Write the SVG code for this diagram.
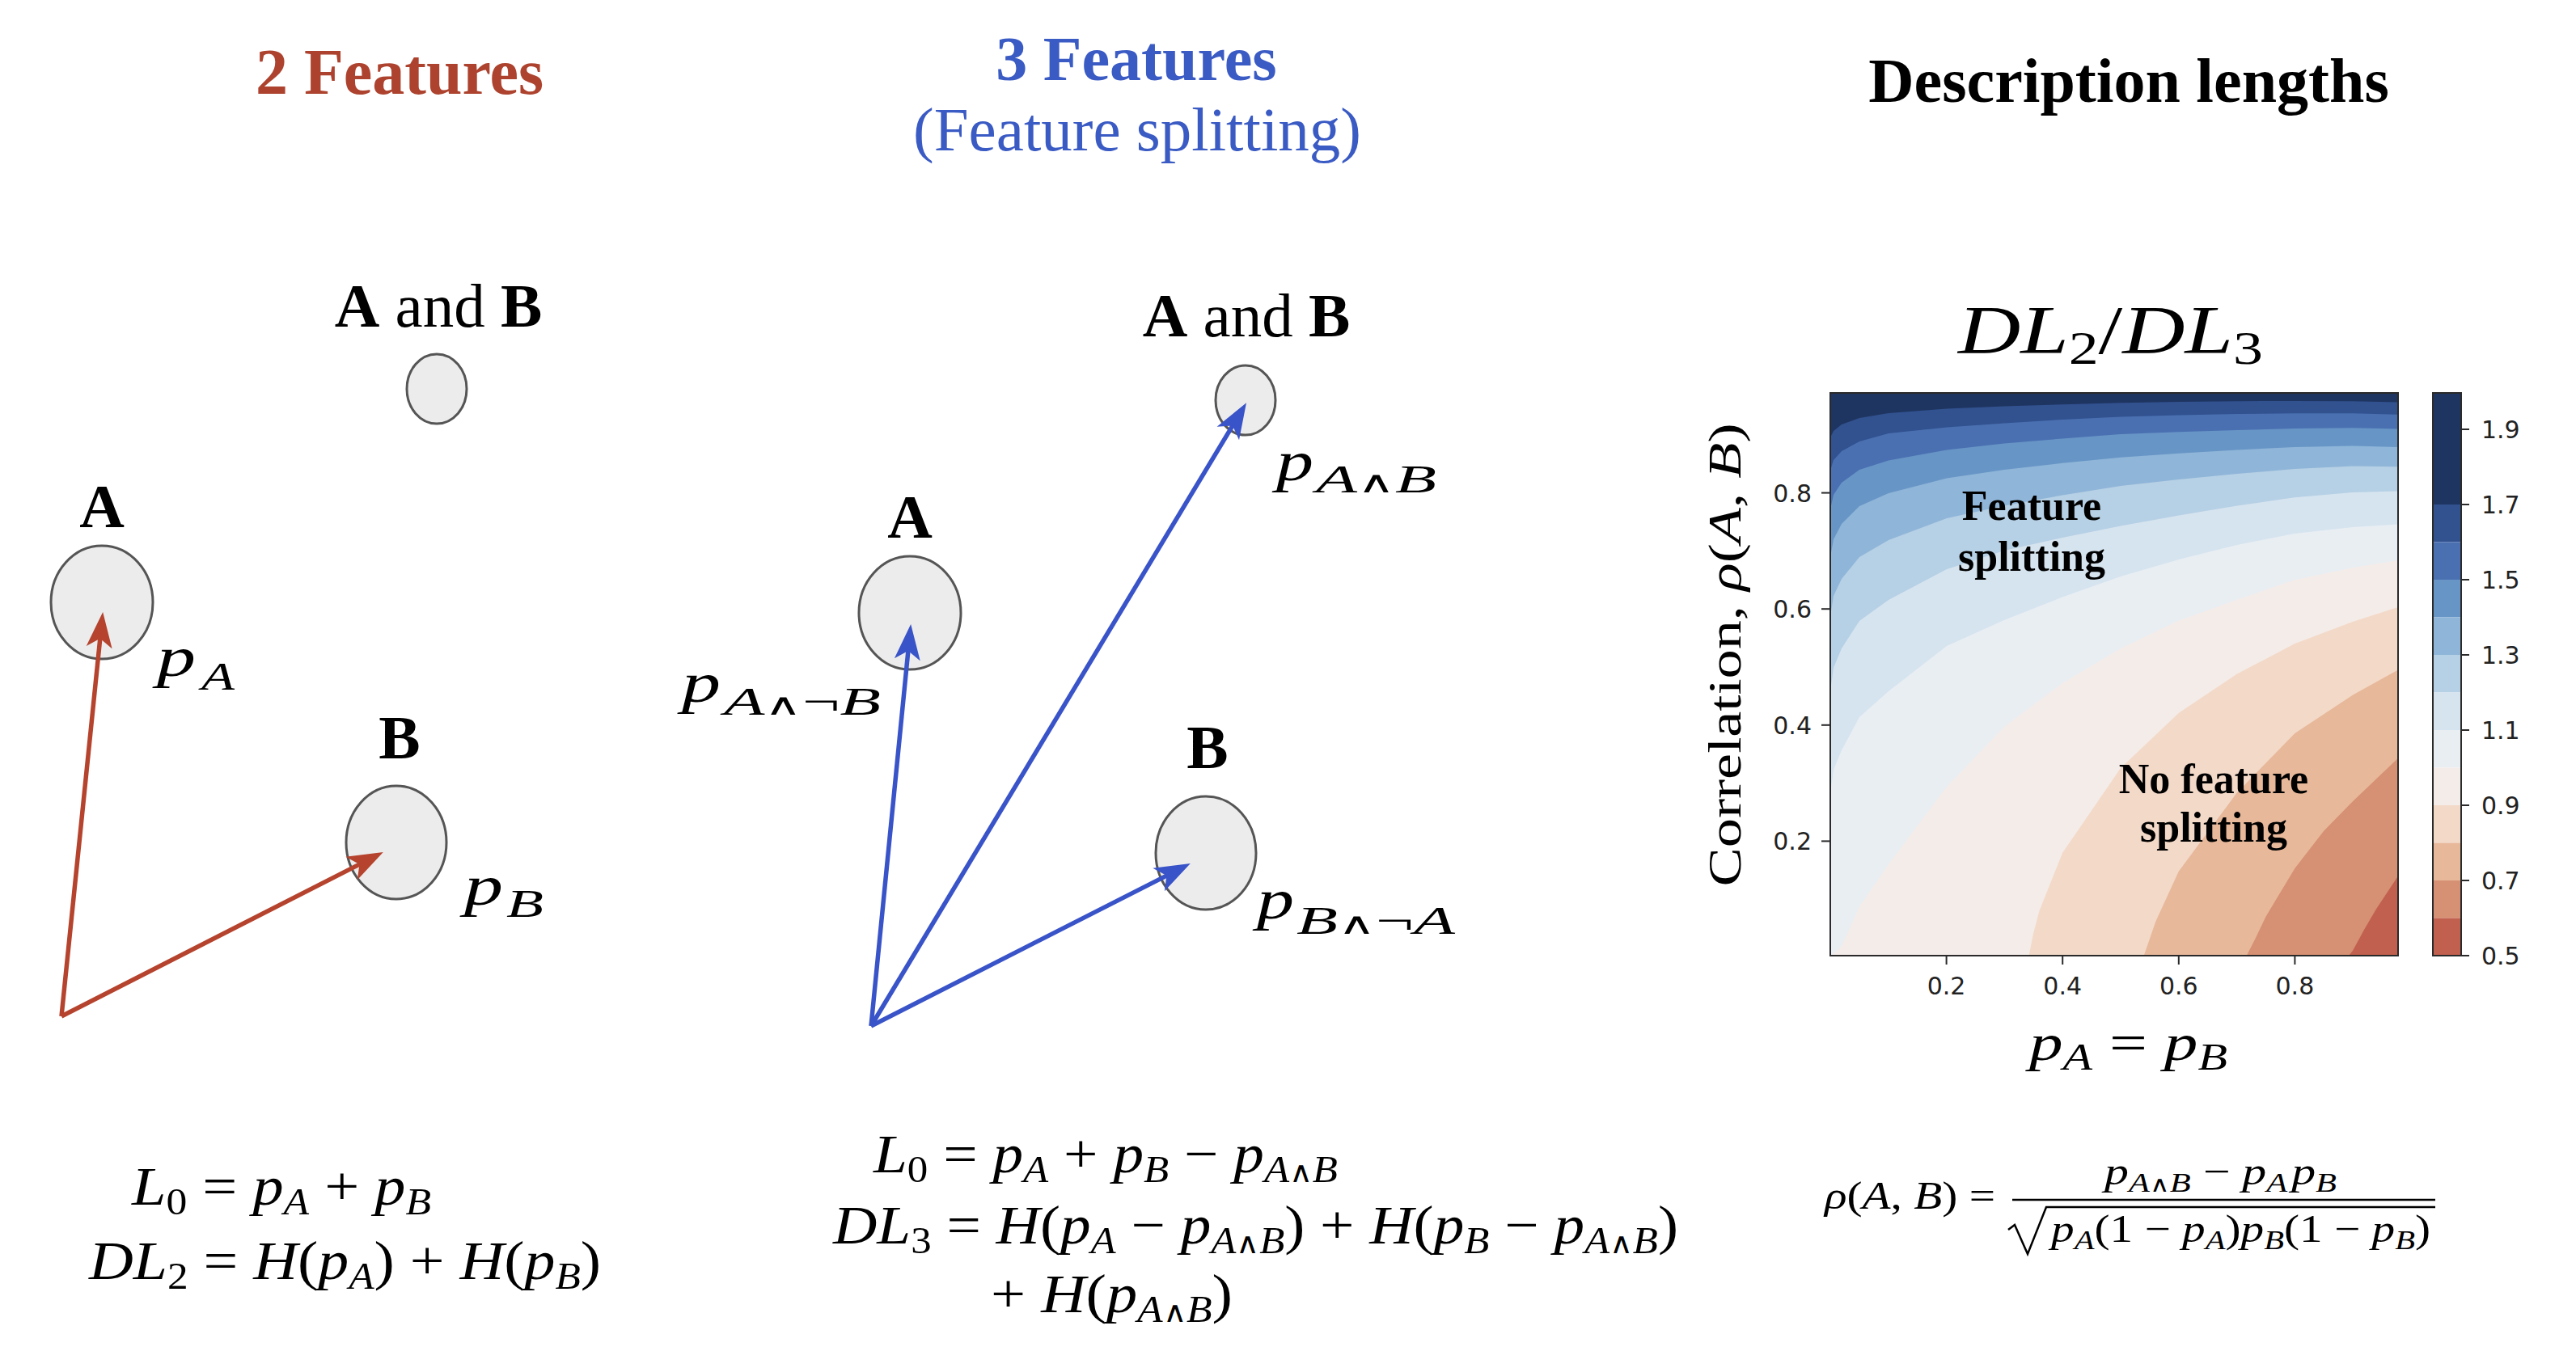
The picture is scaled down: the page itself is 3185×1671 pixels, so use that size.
<svg xmlns="http://www.w3.org/2000/svg" width="3185" height="1671" viewBox="0 0 3185 1671">
<style>
.b{font-family:'Liberation Serif','Times New Roman',serif;font-weight:700}
.rg{font-family:'Liberation Serif','Times New Roman',serif;font-weight:400}
.it{font-family:'Liberation Serif','DejaVu Serif',serif;font-style:italic}
.up{font-style:normal}
.op{font-family:'DejaVu Sans',sans-serif;font-style:normal;font-weight:200;font-size:0.78em}
.tk{font-family:'DejaVu Sans',sans-serif;font-size:30px;fill:#222}
.node{fill:#ececec;stroke:#555;stroke-width:3}
.ax{fill:none;stroke:#2a2a2a;stroke-width:2}
.tm{stroke:#2a2a2a;stroke-width:2}
.red{stroke:#b5432d;stroke-width:5.5;fill:none}
.blue{stroke:#3953c8;stroke-width:5.5;fill:none}
</style>
<defs>
<marker id="ahR" markerUnits="userSpaceOnUse" markerWidth="46" markerHeight="34" viewBox="0 -17 46 34" refX="12" refY="0" orient="auto"><path d="M0,-16 L44,0 L0,16 L11,0 Z" fill="#b5432d"/></marker>
<marker id="ahB" markerUnits="userSpaceOnUse" markerWidth="46" markerHeight="34" viewBox="0 -17 46 34" refX="12" refY="0" orient="auto"><path d="M0,-16 L44,0 L0,16 L11,0 Z" fill="#3953c8"/></marker>
<clipPath id="plotclip"><rect x="2263" y="486" width="702" height="696"/></clipPath>
</defs>
<rect width="3185" height="1671" fill="#fff"/>

<g id="titles">
<text class="b" x="494" y="116" text-anchor="middle" font-size="80" fill="#ad432f">2 Features</text>
<text class="b" x="1405" y="99" text-anchor="middle" font-size="78" fill="#3a5ac4">3 Features</text>
<text class="rg" x="1406" y="186" text-anchor="middle" font-size="77" fill="#3a5ac4">(Feature splitting)</text>
<text class="b" x="2632" y="126" text-anchor="middle" font-size="78" fill="#000">Description lengths</text>
</g>

<g id="l-ab">
<text class="rg" x="542" y="404" text-anchor="middle" font-size="77"><tspan font-weight="700">A</tspan> and <tspan font-weight="700">B</tspan></text>
<ellipse class="node" cx="540" cy="481" rx="37" ry="43"/>
</g>
<g id="l-a">
<text class="b" x="126" y="652" text-anchor="middle" font-size="77">A</text>
<ellipse class="node" cx="126" cy="745" rx="63" ry="70"/>
<text class="it" x="194" y="836" font-size="70" textLength="48" lengthAdjust="spacingAndGlyphs">p</text>
<text class="it" x="249" y="853" font-size="48" textLength="41" lengthAdjust="spacingAndGlyphs">A</text>
</g>
<g id="l-b">
<text class="b" x="494" y="938" text-anchor="middle" font-size="77">B</text>
<ellipse class="node" cx="490" cy="1042" rx="62" ry="70"/>
<text class="it" x="574" y="1119" font-size="70" textLength="48" lengthAdjust="spacingAndGlyphs">p</text>
<text class="it" x="626" y="1134" font-size="48" textLength="46" lengthAdjust="spacingAndGlyphs">B</text>
</g>

<g id="m-ab">
<text class="rg" x="1541" y="416" text-anchor="middle" font-size="77"><tspan font-weight="700">A</tspan> and <tspan font-weight="700">B</tspan></text>
<ellipse class="node" cx="1540" cy="495" rx="37" ry="43"/>
<text class="it" x="1578" y="594" font-size="70" textLength="46" lengthAdjust="spacingAndGlyphs">p</text>
<text class="it" x="1627" y="609" font-size="48" textLength="149" lengthAdjust="spacingAndGlyphs">A<tspan class="op">∧</tspan>B</text>
</g>
<g id="m-a">
<text class="b" x="1125" y="665" text-anchor="middle" font-size="77">A</text>
<ellipse class="node" cx="1125" cy="758" rx="63" ry="70"/>
<text class="it" x="843" y="868" font-size="70" textLength="48" lengthAdjust="spacingAndGlyphs">p</text>
<text class="it" x="895" y="884" font-size="48" textLength="194" lengthAdjust="spacingAndGlyphs">A<tspan class="op">∧</tspan><tspan class="up">¬</tspan>B</text>
</g>
<g id="m-b">
<text class="b" x="1493" y="950" text-anchor="middle" font-size="77">B</text>
<ellipse class="node" cx="1491" cy="1055" rx="62" ry="70"/>
<text class="it" x="1554" y="1136" font-size="70" textLength="46" lengthAdjust="spacingAndGlyphs">p</text>
<text class="it" x="1603" y="1155" font-size="48" textLength="196" lengthAdjust="spacingAndGlyphs">B<tspan class="op">∧</tspan><tspan class="up">¬</tspan>A</text>
</g>

<g id="connectors">
<line class="red" x1="76" y1="1257" x2="123.9" y2="788.8" marker-end="url(#ahR)"/>
<line class="red" x1="76" y1="1257" x2="445.3" y2="1068.6" marker-end="url(#ahR)"/>
<line class="blue" x1="1077" y1="1269" x2="1123" y2="803.9" marker-end="url(#ahB)"/>
<line class="blue" x1="1077" y1="1269" x2="1524.5" y2="525.7" marker-end="url(#ahB)"/>
<line class="blue" x1="1077" y1="1269" x2="1443.3" y2="1082.6" marker-end="url(#ahB)"/>
</g>

<g id="eq-left">
<text class="it" x="163" y="1490" font-size="68" textLength="370" lengthAdjust="spacingAndGlyphs">L<tspan class="up" dy="12" font-size="46">0</tspan><tspan class="up" dy="-12"> = </tspan>p<tspan dy="12" font-size="46">A</tspan><tspan class="up" dy="-12"> + </tspan>p<tspan dy="12" font-size="46">B</tspan></text>
<text class="it" x="110" y="1582" font-size="68" textLength="633" lengthAdjust="spacingAndGlyphs">DL<tspan class="up" dy="12" font-size="46">2</tspan><tspan class="up" dy="-12"> = </tspan>H<tspan class="up">(</tspan>p<tspan dy="12" font-size="46">A</tspan><tspan class="up" dy="-12">) + </tspan>H<tspan class="up">(</tspan>p<tspan dy="12" font-size="46">B</tspan><tspan class="up" dy="-12">)</tspan></text>
</g>
<g id="eq-mid">
<text class="it" x="1080" y="1450" font-size="68" textLength="574" lengthAdjust="spacingAndGlyphs">L<tspan class="up" dy="12" font-size="46">0</tspan><tspan class="up" dy="-12"> = </tspan>p<tspan dy="12" font-size="46">A</tspan><tspan class="up" dy="-12"> + </tspan>p<tspan dy="12" font-size="46">B</tspan><tspan class="up" dy="-12"> − </tspan>p<tspan dy="12" font-size="46">A<tspan class="op">∧</tspan>B</tspan></text>
<text class="it" x="1030" y="1538" font-size="68" textLength="1045" lengthAdjust="spacingAndGlyphs">DL<tspan class="up" dy="12" font-size="46">3</tspan><tspan class="up" dy="-12"> = </tspan>H<tspan class="up">(</tspan>p<tspan dy="12" font-size="46">A</tspan><tspan class="up" dy="-12"> − </tspan>p<tspan dy="12" font-size="46">A<tspan class="op">∧</tspan>B</tspan><tspan class="up" dy="-12">) + </tspan>H<tspan class="up">(</tspan>p<tspan dy="12" font-size="46">B</tspan><tspan class="up" dy="-12"> − </tspan>p<tspan dy="12" font-size="46">A<tspan class="op">∧</tspan>B</tspan><tspan class="up" dy="-12">)</tspan></text>
<text class="it" x="1225" y="1623" font-size="68" textLength="299" lengthAdjust="spacingAndGlyphs"><tspan class="up">+ </tspan>H<tspan class="up">(</tspan>p<tspan dy="12" font-size="46">A<tspan class="op">∧</tspan>B</tspan><tspan class="up" dy="-12">)</tspan></text>
</g>
<g id="eq-right">
<text class="it" x="2256" y="1495" font-size="48" textLength="211" lengthAdjust="spacingAndGlyphs">ρ<tspan class="up">(</tspan>A<tspan class="up">, </tspan>B<tspan class="up">) =</tspan></text>
<line x1="2488" y1="1484" x2="3011" y2="1484" stroke="#000" stroke-width="2.5"/>
<text class="it" x="2602" y="1465" font-size="48" textLength="287" lengthAdjust="spacingAndGlyphs">p<tspan dy="9" font-size="34">A<tspan class="op">∧</tspan>B</tspan><tspan class="up" dy="-9"> − </tspan>p<tspan dy="9" font-size="34">A</tspan><tspan dy="-9" dx="4">p</tspan><tspan dy="9" font-size="34">B</tspan></text>
<path d="M2483,1521 L2491,1515 L2507,1551 L2530,1493 L3011,1493" fill="none" stroke="#000" stroke-width="2.5"/>
<text class="it" x="2536" y="1536" font-size="48" textLength="469" lengthAdjust="spacingAndGlyphs">p<tspan dy="9" font-size="34">A</tspan><tspan class="up" dy="-9">(1 − </tspan>p<tspan dy="9" font-size="34">A</tspan><tspan class="up" dy="-9">)</tspan>p<tspan dy="9" font-size="34">B</tspan><tspan class="up" dy="-9">(1 − </tspan>p<tspan dy="9" font-size="34">B</tspan><tspan class="up" dy="-9">)</tspan></text>
</g>

<g id="plot-title">
<text class="it" x="2421" y="437" font-size="84" textLength="377" lengthAdjust="spacingAndGlyphs">DL<tspan class="up" dy="13" font-size="58">2</tspan><tspan class="up" dy="-13">/</tspan>DL<tspan class="up" dy="13" font-size="58">3</tspan></text>
</g>
<g id="contour" clip-path="url(#plotclip)">
<rect x="2263" y="486" width="702" height="696" fill="#1f3561"/>
<path fill="#31518f" d="M2263,541 L2267,533 L2277,525 L2299,517 L2335,511 L2407,505.5 L2478,502.6 L2550,500.3 L2622,498.3 L2694,497 L2766,496.2 L2837,496 L2909,496.2 L2965,497.6 L2965,1182 L2263,1182 Z"/>
<path fill="#4a70b1" d="M2263,582 L2267,569 L2277,558 L2299,546 L2335,536 L2407,528.5 L2478,523.4 L2550,519 L2622,515.5 L2694,513.5 L2766,512 L2837,511.2 L2909,511.2 L2965,512.7 L2965,1182 L2263,1182 Z"/>
<path fill="#6795c6" d="M2263,630 L2267,612 L2277,597 L2299,581 L2335,569.4 L2407,556.5 L2478,548.6 L2550,542.5 L2622,537.1 L2694,534.3 L2766,532.1 L2837,529.9 L2909,529.2 L2965,530.6 L2965,1182 L2263,1182 Z"/>
<path fill="#8fb5d8" d="M2263,689 L2267,667 L2277,648 L2299,626 L2335,610 L2407,591.6 L2478,581 L2550,572.8 L2622,565.8 L2694,560.8 L2766,556.5 L2837,552.9 L2909,551.4 L2965,552.9 L2965,1182 L2263,1182 Z"/>
<path fill="#b6d0e5" d="M2263,762.5 L2267,737 L2277,716 L2299,689 L2335,668 L2407,641 L2478,625.4 L2550,612.5 L2622,601 L2694,593 L2766,586 L2837,580 L2909,576.6 L2965,577.3 L2965,1182 L2263,1182 Z"/>
<path fill="#d6e4ef" d="M2263,855 L2267,826 L2277,802 L2299,768 L2335,742 L2407,704 L2478,681 L2550,665 L2622,650.5 L2694,637.5 L2766,625.4 L2837,615.3 L2909,609 L2965,607.4 L2965,1182 L2263,1182 Z"/>
<path fill="#e9eef3" d="M2263,981 L2267,952 L2277,928 L2299,887 L2335,855 L2407,799 L2478,767 L2550,738.5 L2622,713 L2694,692 L2766,674 L2837,660 L2909,652 L2965,648.4 L2965,1182 L2263,1182 Z"/>
<path fill="#f4ece8" d="M2263,1182 L2270,1177 L2277,1170 L2299,1121.5 L2335,1069 L2407,973 L2478,899 L2550,845 L2622,802 L2694,767.6 L2766,741.7 L2837,717.3 L2909,702.2 L2965,693 L2965,1182 Z"/>
<path fill="#f3d9c8" d="M2508.6,1182 L2514,1155 L2521.5,1126.6 L2550.2,1054.8 L2622,950 L2694,881.7 L2766,833.6 L2837,796.3 L2909,769 L2965,751 L2965,1182 Z"/>
<path fill="#e7b89a" d="M2650.7,1182 L2658,1161 L2665.1,1140.2 L2693.8,1077.7 L2765.6,980.8 L2837.4,906.9 L2909.2,859.5 L2965,828.6 L2965,1182 Z"/>
<path fill="#d69073" d="M2777.8,1182 L2789,1160 L2801.5,1133.7 L2837.4,1074.1 L2873,1028 L2909.2,990.9 L2965,937.7 L2965,1182 Z"/>
<path fill="#c1604f" d="M2904.2,1182 L2909.2,1175.4 L2923,1150 L2937.9,1124.4 L2965,1083.5 L2965,1182 Z"/>
</g>
<g id="axes">
<rect class="ax" x="2263" y="486" width="702" height="696"/>
<line class="tm" x1="2252" y1="609.6" x2="2263" y2="609.6"/>
<line class="tm" x1="2252" y1="753.2" x2="2263" y2="753.2"/>
<line class="tm" x1="2252" y1="896.8" x2="2263" y2="896.8"/>
<line class="tm" x1="2252" y1="1040.4" x2="2263" y2="1040.4"/>
<text class="tk" x="2240" y="620.6" text-anchor="end">0.8</text>
<text class="tk" x="2240" y="764.2" text-anchor="end">0.6</text>
<text class="tk" x="2240" y="907.8" text-anchor="end">0.4</text>
<text class="tk" x="2240" y="1051.4" text-anchor="end">0.2</text>
<line class="tm" x1="2406.6" y1="1182" x2="2406.6" y2="1193"/>
<line class="tm" x1="2550.2" y1="1182" x2="2550.2" y2="1193"/>
<line class="tm" x1="2693.8" y1="1182" x2="2693.8" y2="1193"/>
<line class="tm" x1="2837.4" y1="1182" x2="2837.4" y2="1193"/>
<text class="tk" x="2406.6" y="1230" text-anchor="middle">0.2</text>
<text class="tk" x="2550.2" y="1230" text-anchor="middle">0.4</text>
<text class="tk" x="2693.8" y="1230" text-anchor="middle">0.6</text>
<text class="tk" x="2837.4" y="1230" text-anchor="middle">0.8</text>
<text class="rg" font-size="58" transform="translate(2152,810) rotate(-90)" text-anchor="middle" textLength="573" lengthAdjust="spacingAndGlyphs">Correlation, <tspan class="it">ρ</tspan>(<tspan class="it">A</tspan>, <tspan class="it">B</tspan>)</text>
<text class="it" x="2509" y="1311" font-size="64" textLength="245" lengthAdjust="spacingAndGlyphs">p<tspan dy="12" font-size="46">A</tspan><tspan class="up" dy="-12"> = </tspan>p<tspan dy="12" font-size="46">B</tspan></text>
</g>
<g id="region-labels">
<text class="b" x="2512" y="643" text-anchor="middle" font-size="52">Feature</text>
<text class="b" x="2512" y="706" text-anchor="middle" font-size="52">splitting</text>
<text class="b" x="2737" y="981" text-anchor="middle" font-size="52">No feature</text>
<text class="b" x="2737" y="1041" text-anchor="middle" font-size="52">splitting</text>
</g>
<g id="colorbar">
<rect x="3008" y="486" width="35" height="138" fill="#1f3561"/>
<rect x="3008" y="624" width="35" height="46.5" fill="#31518f"/>
<rect x="3008" y="670.5" width="35" height="46.5" fill="#4a70b1"/>
<rect x="3008" y="717" width="35" height="46.5" fill="#6795c6"/>
<rect x="3008" y="763.5" width="35" height="46.5" fill="#8fb5d8"/>
<rect x="3008" y="810" width="35" height="46.5" fill="#b6d0e5"/>
<rect x="3008" y="856.5" width="35" height="46.5" fill="#d6e4ef"/>
<rect x="3008" y="903" width="35" height="46.5" fill="#e9eef3"/>
<rect x="3008" y="949.5" width="35" height="46.5" fill="#f4ece8"/>
<rect x="3008" y="996" width="35" height="46.5" fill="#f3d9c8"/>
<rect x="3008" y="1042.5" width="35" height="46.5" fill="#e7b89a"/>
<rect x="3008" y="1089" width="35" height="46.5" fill="#d69073"/>
<rect x="3008" y="1135.5" width="35" height="46.5" fill="#c1604f"/>
<rect class="ax" x="3008" y="486" width="35" height="696"/>
<line class="tm" x1="3043" y1="531" x2="3053" y2="531"/>
<line class="tm" x1="3043" y1="624" x2="3053" y2="624"/>
<line class="tm" x1="3043" y1="717" x2="3053" y2="717"/>
<line class="tm" x1="3043" y1="810" x2="3053" y2="810"/>
<line class="tm" x1="3043" y1="903" x2="3053" y2="903"/>
<line class="tm" x1="3043" y1="996" x2="3053" y2="996"/>
<line class="tm" x1="3043" y1="1089" x2="3053" y2="1089"/>
<line class="tm" x1="3043" y1="1182" x2="3053" y2="1182"/>
<text class="tk" x="3068" y="542">1.9</text>
<text class="tk" x="3068" y="635">1.7</text>
<text class="tk" x="3068" y="728">1.5</text>
<text class="tk" x="3068" y="821">1.3</text>
<text class="tk" x="3068" y="914">1.1</text>
<text class="tk" x="3068" y="1007">0.9</text>
<text class="tk" x="3068" y="1100">0.7</text>
<text class="tk" x="3068" y="1193">0.5</text>
</g>
</svg>
